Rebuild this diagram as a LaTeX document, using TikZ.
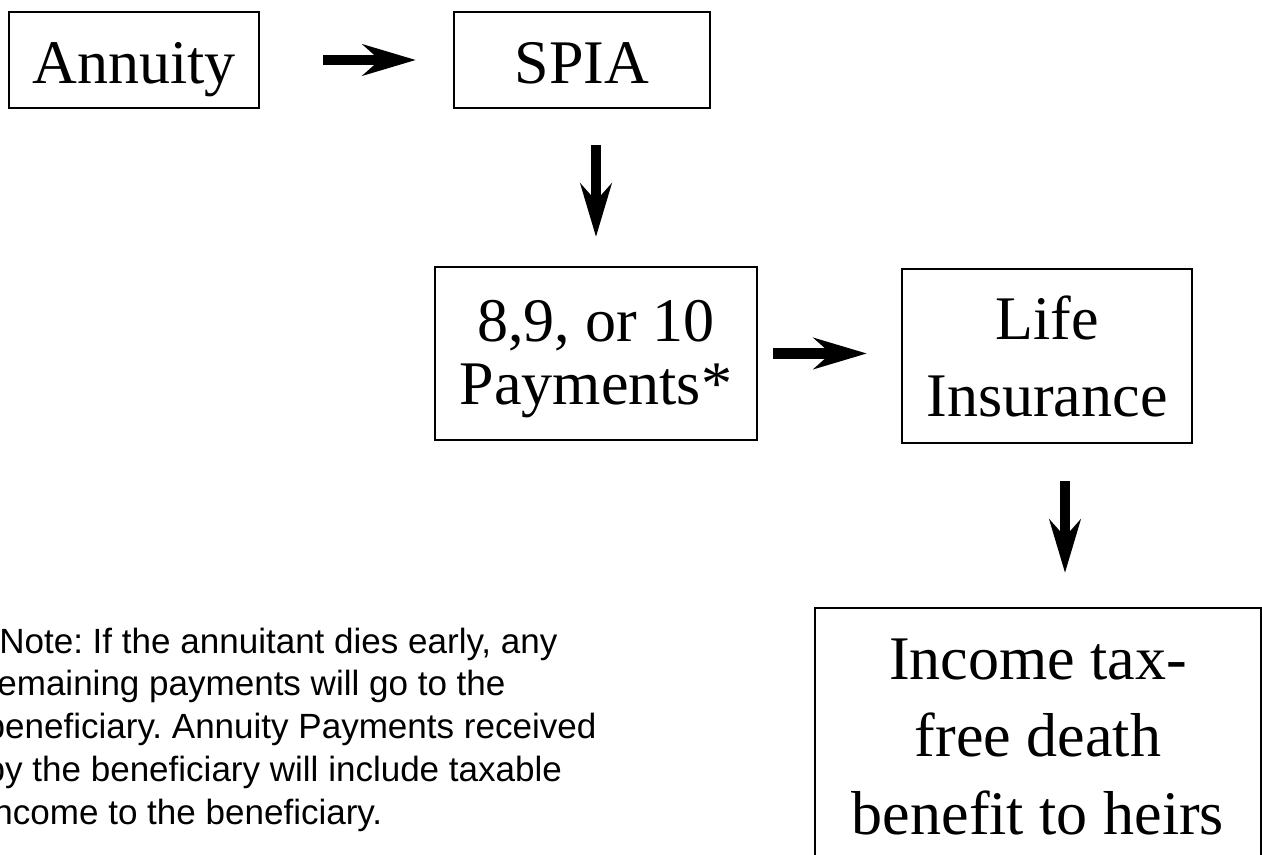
\documentclass[tikz,border=0pt]{standalone}
\usepackage{fontspec}
\usepackage{tikz}
\usetikzlibrary{arrows.meta,positioning}
\newfontfamily\boxfont{Liberation Serif}
\newfontfamily\notefont{Liberation Sans}
\frenchspacing
\tikzset{
  box/.style={draw, line width=0.6pt, inner sep=0pt, outer sep=0pt, align=center,
    font=\boxfont\fontsize{17.64}{21.9}\selectfont},
  onebox/.style={box, text height=0.46cm, text depth=0pt},
  bigarrow/.style={line width=3pt, -{Stealth[length=5.3mm, width=3.1mm, inset=1.7mm]}}
}
\begin{document}
\begin{tikzpicture}[x=0.01cm, y=-0.01cm]
         \useasboundingbox (0, 0) rectangle (1262, 855);
         \clip (0, 0) rectangle (1262, 855);
         \node [onebox, minimum width=2.5cm, minimum height=0.96cm] (Ann) at (134, 60) {Annuity};
         \node [onebox, minimum width=2.56cm, minimum height=0.96cm] (SPIA) at (582, 60) {SPIA};
         \node [box, minimum width=3.22cm, minimum height=1.73cm,
           font=\boxfont\fontsize{17.64}{17.9}\selectfont] (Pay) at (596, 353.5) {\rule{0pt}{0.52cm}8,9, or 10\\Payments*};
         \node [box, minimum width=2.9cm, minimum height=1.74cm] (Life) at (1047, 356) {Life\\Insurance};
         \node [box, minimum width=4.46cm, minimum height=2.58cm] (Heirs) at (1038, 737) {Income tax-\\free death\\benefit to heirs};
         \node [anchor=north west, inner sep=0pt, align=left,
           font=\notefont\fontsize{9.96}{12.2}\selectfont] (Note) at (-15, 627)
           {*Note: If the annuitant dies early, any\\remaining payments will go to the\\beneficiary. Annuity Payments received\\by the beneficiary will include taxable\\income to the beneficiary.};
         \draw [bigarrow, shorten <=6.4mm, shorten >=3.8mm] (Ann.east) -- (SPIA.west);
         \draw [bigarrow, shorten <=3.7mm, shorten >=3.0mm] (Pay.north |- SPIA.south) -- (Pay.north);
         \draw [bigarrow, shorten <=1.6mm, shorten >=3.5mm] (Pay.east) -- (Pay.east -| Life.west);
         \draw [bigarrow, shorten <=3.8mm, shorten >=3.5mm] ([xshift=1.8mm]Life.south) -- ([xshift=1.8mm]Life.south |- Heirs.north);
\end{tikzpicture}
\end{document}
